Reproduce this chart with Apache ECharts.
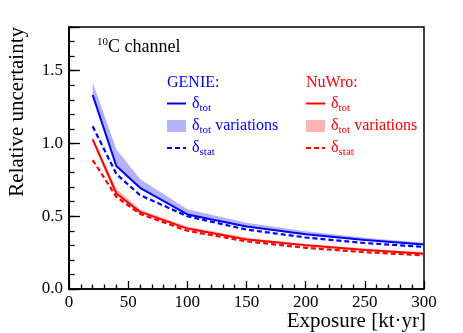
<!DOCTYPE html>
<html>
<head>
<meta charset="utf-8">
<script src="https://cdn.jsdelivr.net/npm/echarts@6/dist/echarts.min.js"></script>
<style>
html, body { margin: 0; padding: 0; background: #fff; }
#chart { width: 463px; height: 333px; }
</style>
</head>
<body>
<div id="chart"></div>
<script>
// exposure points [kt·yr]
var exposure = [20, 40, 60, 100, 150, 200, 250, 300];

// GENIE
var genieTot = [1.333, 0.845, 0.695, 0.512, 0.430, 0.376, 0.336, 0.305];
var genieTotHigh = [1.420, 0.960, 0.755, 0.548, 0.456, 0.396, 0.352, 0.318];
var genieStat = [1.118, 0.790, 0.645, 0.500, 0.408, 0.354, 0.316, 0.289];

// NuWro
var nuwroTot = [1.028, 0.656, 0.530, 0.415, 0.340, 0.300, 0.268, 0.243];
var nuwroTotHigh = [1.045, 0.690, 0.546, 0.430, 0.352, 0.310, 0.278, 0.252];
var nuwroStat = [0.886, 0.633, 0.516, 0.400, 0.327, 0.283, 0.253, 0.231];

var yLabels = ['0.0', '0.5', '1.0', '1.5'];

var SERIF = 'Liberation Serif';
var BLUE = '#0000ff';
var RED = '#ff0000';
var BLUE_BAND = 'rgba(0,0,255,0.3)';
var RED_BAND = 'rgba(255,0,0,0.3)';

function pairs(ys) {
  return exposure.map(function (x, i) { return [x, ys[i]]; });
}

// band between lo and hi drawn as one polygon
function bandSeries(lo, hi, color) {
  var data = exposure.map(function (x, i) { return [x, lo[i], hi[i]]; });
  return {
    type: 'custom', silent: true, z: 1,
    data: data,
    encode: { x: 0, y: [1, 2] },
    renderItem: function (params, api) {
      if (params.dataIndex !== 0) return;
      var pts = [];
      data.forEach(function (d) { pts.push(api.coord([d[0], d[2]])); });
      for (var i = data.length - 1; i >= 0; i--) pts.push(api.coord([data[i][0], data[i][1]]));
      return { type: 'polygon', shape: { points: pts }, style: { fill: color } };
    }
  };
}

function lineSeries(ys, color, dashed) {
  return {
    type: 'line', data: pairs(ys), symbol: 'none', silent: true, z: 3,
    lineStyle: { color: color, width: dashed ? 2.2 : 2, type: dashed ? [5, 3] : 'solid' }
  };
}

function txt(size, color, extra) {
  var s = { fontFamily: SERIF, fontSize: size, fill: color };
  for (var k in extra) s[k] = extra[k];
  return s;
}

function richFor(color) {
  return {
    m: txt(16, color),
    s: txt(11, color, { padding: [8, 0, 0, 0] })
  };
}

function legendBlock(x, title, color, band) {
  var tx = x + 25;
  return [
    { type: 'text', x: x, y: 83, style: txt(16, color, { text: title, verticalAlign: 'middle' }) },
    { type: 'line', shape: { x1: x, y1: 103.5, x2: x + 19, y2: 103.5 }, style: { stroke: color, lineWidth: 2 } },
    { type: 'text', x: tx, y: 104, style: txt(16, color, { text: '{m|δ}{s|tot}', verticalAlign: 'middle', rich: richFor(color) }) },
    { type: 'rect', shape: { x: x, y: 120, width: 19, height: 12 }, style: { fill: band } },
    { type: 'text', x: tx, y: 126, style: txt(16, color, { text: '{m|δ}{s|tot}{m| variations}', verticalAlign: 'middle', rich: richFor(color) }) },
    { type: 'line', shape: { x1: x, y1: 148, x2: x + 19, y2: 148 }, style: { stroke: color, lineWidth: 2.2, lineDash: [5, 3] } },
    { type: 'text', x: tx, y: 148, style: txt(16, color, { text: '{m|δ}{s|stat}', verticalAlign: 'middle', rich: richFor(color) }) }
  ];
}

var chart = echarts.init(document.getElementById('chart'), null, { renderer: 'canvas' });

var axisLineStyle = { show: true, lineStyle: { color: '#000', width: 1.5 } };
var tickLine = { color: '#000', width: 1.3 };
var gridBox = { left: 69, right: 39, top: 27, bottom: 44, containLabel: false, outerBoundsMode: 'none' };

var option = {
  animation: false,
  backgroundColor: '#fff',
  textStyle: { fontFamily: SERIF },
  grid: [
    Object.assign({ show: true, borderColor: '#000', borderWidth: 1.5 }, gridBox),
    Object.assign({ show: false }, gridBox)
  ],
  xAxis: [{
    type: 'value', min: 0, max: 300, interval: 50, gridIndex: 0,
    axisLine: axisLineStyle,
    axisTick: { inside: true, length: 8, lineStyle: tickLine },
    minorTick: { show: true, splitNumber: 5, length: 4.5, lineStyle: tickLine },
    axisLabel: { fontFamily: SERIF, fontSize: 17, color: '#000', margin: 5 },
    splitLine: { show: false },
    minorSplitLine: { show: false }
  }, {
    type: 'value', min: 0, max: 300, gridIndex: 1, show: false
  }],
  yAxis: [{
    type: 'value', min: 0, max: 1.8, interval: 0.5, gridIndex: 0,
    axisLine: axisLineStyle,
    axisTick: { inside: true, length: 11, lineStyle: tickLine },
    axisLabel: {
      fontFamily: SERIF, fontSize: 17, color: '#000', margin: 6,
      formatter: function (v) {
        var i = Math.round(v / 0.5);
        return Math.abs(v - i * 0.5) < 1e-6 && yLabels[i] ? yLabels[i] : '';
      }
    },
    splitLine: { show: false }
  }, {
    // minor ticks every 0.1
    type: 'value', min: 0, max: 1.8, interval: 0.1, gridIndex: 1, position: 'left',
    axisLine: axisLineStyle,
    axisTick: { show: true, inside: true, length: 5.5, lineStyle: tickLine },
    axisLabel: { show: false },
    splitLine: { show: false }
  }],
  series: [
    bandSeries(genieTot, genieTotHigh, BLUE_BAND),
    bandSeries(nuwroTot, nuwroTotHigh, RED_BAND),
    lineSeries(genieTot, BLUE, false),
    lineSeries(genieStat, BLUE, true),
    lineSeries(nuwroTot, RED, false),
    lineSeries(nuwroStat, RED, true),
    { type: 'line', xAxisIndex: 1, yAxisIndex: 1, data: [], silent: true }
  ],
  graphic: [
    { type: 'text', x: 17, y: 27, rotation: Math.PI / 2,
      style: txt(21, '#000', { text: 'Relative uncertainty', align: 'right', verticalAlign: 'middle' }) },
    { type: 'text', x: 426, y: 321,
      style: txt(21, '#000', { text: 'Exposure [kt·yr]', align: 'right', verticalAlign: 'middle' }) },
    { type: 'text', x: 97, y: 47,
      style: txt(18, '#000', { text: '{a|10}{b|C channel}', verticalAlign: 'middle',
        rich: { a: txt(11, '#000', { padding: [0, 0, 10, 0] }), b: txt(18, '#000') } }) }
  ].concat(legendBlock(167, 'GENIE:', BLUE, '#b3b3ff'), legendBlock(306, 'NuWro:', RED, '#ffb3b3'))
};

chart.setOption(option);
</script>
</body>
</html>
